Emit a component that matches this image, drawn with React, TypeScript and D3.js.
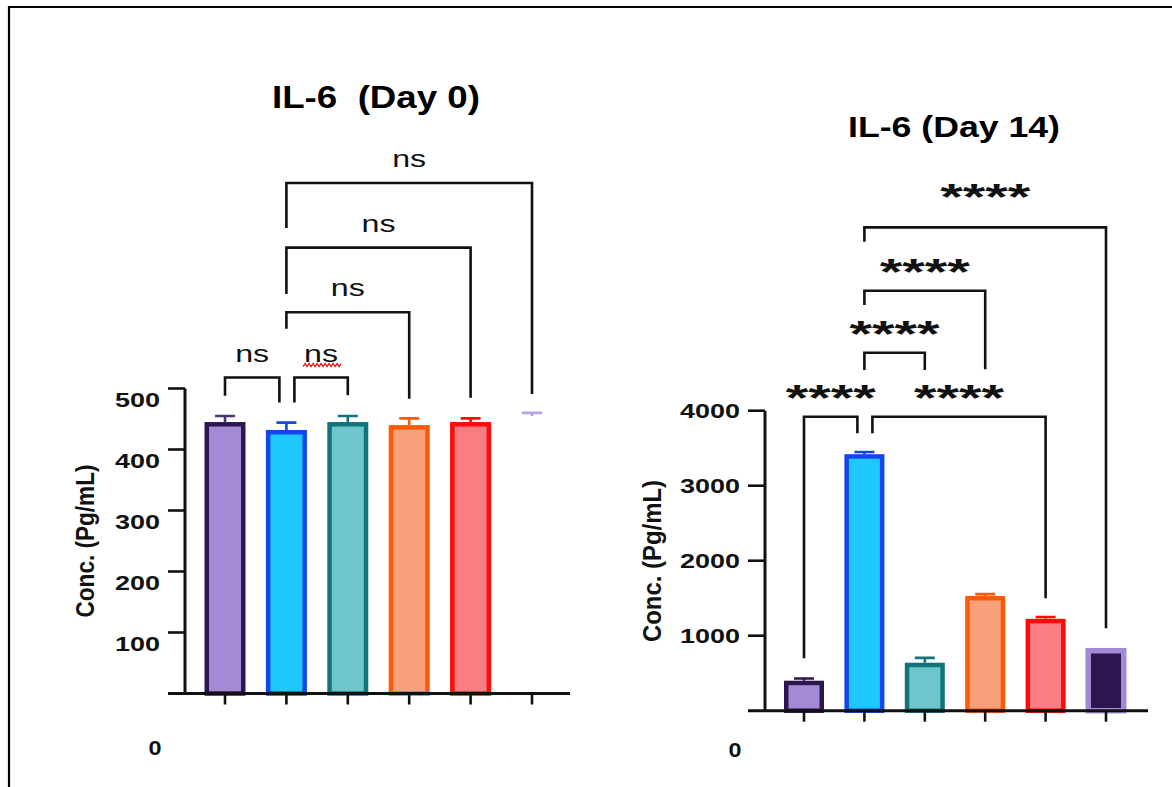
import React from "react";
import * as d3 from "d3";

// groups have no visible labels on the x axis
const groups = ["g1", "g2", "g3", "g4", "g5", "g6"];

// IL-6 day 0 (pg/mL)
const day0Mean = [445, 432, 445, 440, 445, 455];
const day0Err = [10, 12, 10, 11, 6, 5];
const day0Ticks = [100, 200, 300, 400, 500];

// IL-6 day 14 (pg/mL)
const day14Mean = [400, 3420, 640, 1530, 1225, 830];
const day14Err = [30, 30, 65, 25, 25, 0];
const day14Ticks = [1000, 2000, 3000, 4000];

// significance brackets: pair, label, bar level, left leg end, right leg end (data units)
const day0Pairs = [[0, 1], [1, 2], [1, 3], [1, 4], [1, 5]];
const day0Labels = ["ns", "ns", "ns", "ns", "ns"];
const day0Level = [518, 518, 625, 731, 837];
const day0LeftEnd = [488, 477, 598, 655, 763];
const day0RightEnd = [477, 489, 483, 485, 491];

const day14Pairs = [[0, 1], [1, 4], [1, 2], [1, 3], [1, 5]];
const day14Labels = ["****", "****", "****", "****", "****"];
const day14Level = [3920, 3920, 4773, 5600, 6445];
const day14LeftEnd = [699, 3699, 4543, 5409, 6253];
const day14RightEnd = [3699, 1499, 4543, 4552, 1099];

const FONT = "'Liberation Sans', Arial, sans-serif";

const fills0 = ["#a48ad4", "#1ec8fd", "#6fc5cc", "#f8a07a", "#f97d82", "none"];
const strokes0 = ["#2d1650", "#1246ea", "#11737b", "#ff5a0a", "#ff0a0a", "none"];
const errCol0 = ["#4b3474", "#1246ea", "#11737b", "#ff5a0a", "#ff0a0a", "#b9a2e6"];
const fills14 = ["#a48ad4", "#1ec8fd", "#6fc5cc", "#f8a07a", "#f97d82", "#2d1650"];
const strokes14 = ["#2d1650", "#1246ea", "#11737b", "#ff5a0a", "#ff0a0a", "#a48ad4"];

const Panel = (props: any) => {
  const { c } = props;
  const x = d3.scalePoint().domain(groups).range(c.xRange);
  const y = d3.scaleLinear().domain(c.yDomain).range(c.yRange);
  const x0 = c.axisLeft;
  const y0 = y(0);
  const sw = 4.5;

  const shared = (i: number, idx: number) =>
    c.pairs.some((p: number[], j: number) => j !== i && c.level[j] === c.level[i] && p.includes(idx));

  return (
    <g>
      <text
        x={c.title.x}
        y={c.title.y}
        fontFamily={FONT}
        fontWeight="bold"
        fontSize={c.title.size}
        textLength={c.title.len}
        lengthAdjust="spacingAndGlyphs"
        style={{ whiteSpace: "pre" }}
      >
        {c.title.text}
      </text>

      {/* bars */}
      {groups.map((g, i) => {
        const cx = x(g) as number;
        const top = y(c.mean[i]);
        return (
          <g key={g}>
            <rect
              x={cx - c.barW / 2 + sw / 2}
              y={top + sw / 2}
              width={c.barW - sw}
              height={y0 - top - sw / 2}
              fill={c.fills[i]}
              stroke={c.strokes[i]}
              strokeWidth={c.strokeW ? c.strokeW[i] : sw}
            />
            {c.err[i] > 0 && (
              <path
                d={`M${cx},${top}V${y(c.mean[i] + c.err[i])}M${cx - 10},${y(c.mean[i] + c.err[i])}H${cx + 10}`}
                stroke={c.errCol[i]}
                strokeWidth={2.6}
                fill="none"
              />
            )}
          </g>
        );
      })}

      {/* axes */}
      <path d={`M${x0},${y(c.yDomain[1])}V${y0}`} stroke="#111" strokeWidth={3} fill="none" />
      <path d={`M${x0 - 17},${y0}H${c.axisRight}`} stroke="#111" strokeWidth={3} fill="none" />
      {c.ticks.map((t: number) => (
        <g key={t}>
          <line x1={x0 - 17} x2={x0} y1={y(t)} y2={y(t)} stroke="#111" strokeWidth={2.6} />
          <text
            x={x0 - 25}
            y={y(t) + c.labelShift}
            dy="0.36em"
            textAnchor="end"
            fontFamily={FONT}
            fontWeight="bold"
            fontSize={20}
            textLength={String(t).length * 15}
            lengthAdjust="spacingAndGlyphs"
            fill="#111"
          >
            {t}
          </text>
        </g>
      ))}
      {groups.map((g) => (
        <line key={g} x1={x(g)} x2={x(g)} y1={y0} y2={y0 + 11} stroke="#111" strokeWidth={2.6} />
      ))}
      <text
        x={c.zero.x}
        y={c.zero.y}
        fontFamily={FONT}
        fontWeight="bold"
        fontSize={20}
        textAnchor="middle"
        textLength={13}
        lengthAdjust="spacingAndGlyphs"
        fill="#111"
      >
        0
      </text>
      <text
        transform={`translate(${c.ylab.x},${c.ylab.y}) scale(1.3,1) rotate(-90)`}
        dy="0.35em"
        textAnchor="middle"
        fontFamily={FONT}
        fontWeight="bold"
        fontSize={20}
        textLength={c.ylab.len}
        lengthAdjust="spacingAndGlyphs"
        fill="#111"
      >
        Conc. (Pg/mL)
      </text>

      {/* significance brackets */}
      {c.pairs.map((p: number[], i: number) => {
        const xa = (x(groups[p[0]]) as number) + (shared(i, p[0]) ? 8 : 0);
        const xb = (x(groups[p[1]]) as number) - (shared(i, p[1]) ? 7 : 0);
        const ly = y(c.level[i]);
        const mid = (xa + xb) / 2;
        const isStar = c.labels[i].startsWith("*");
        const lift = isStar ? (c.level[i] === d3.max(c.level) ? 35 : 24) : 0;
        return (
          <g key={i}>
            <path
              d={`M${xa},${y(c.leftEnd[i])}V${ly}H${xb}V${y(c.rightEnd[i])}`}
              stroke="#111"
              strokeWidth={2.6}
              fill="none"
            />
            {isStar ? (
              <text
                x={mid}
                y={ly - lift + 18}
                textAnchor="middle"
                fontFamily={FONT}
                fontWeight="bold"
                fontSize={36}
                textLength={90}
                lengthAdjust="spacingAndGlyphs"
                fill="#111"
              >
                {c.labels[i]}
              </text>
            ) : (
              <text
                x={mid}
                y={ly - 16}
                textAnchor="middle"
                fontFamily={FONT}
                fontSize={23}
                textLength={34}
                lengthAdjust="spacingAndGlyphs"
                fill="#111"
              >
                {c.labels[i]}
              </text>
            )}
            {c.squiggle === i && (
              <path
                d={
                  d3.line()(
                    d3.range(0, 20).map((k) => [mid - 18 + k * 2, ly - 16 + (k % 2 ? 2 : 5)] as [number, number])
                  ) as string
                }
                stroke="#e02020"
                strokeWidth={1.3}
                fill="none"
              />
            )}
          </g>
        );
      })}
    </g>
  );
};

const day0Config = {
  xRange: [225, 532],
  yDomain: [0, 500],
  yRange: [693.5, 388.5],
  axisLeft: 185,
  axisRight: 570,
  barW: 41,
  labelShift: 11,
  mean: day0Mean,
  err: day0Err,
  ticks: day0Ticks,
  fills: fills0,
  strokes: strokes0,
  errCol: errCol0,
  pairs: day0Pairs,
  labels: day0Labels,
  level: day0Level,
  leftEnd: day0LeftEnd,
  rightEnd: day0RightEnd,
  squiggle: 1,
  title: { text: "IL-6  (Day 0)", x: 272, y: 108, size: 31, len: 208 },
  zero: { x: 155, y: 755 },
  ylab: { x: 85, y: 541, len: 153 },
};

const day14Config = {
  xRange: [804, 1106],
  yDomain: [0, 4000],
  yRange: [710.7, 410.7],
  axisLeft: 765,
  axisRight: 1148,
  barW: 40,
  labelShift: 0,
  mean: day14Mean,
  err: day14Err,
  ticks: day14Ticks,
  fills: fills14,
  strokes: strokes14,
  strokeW: [4.5, 4.5, 4.5, 4.5, 4.5, 5.5],
  errCol: strokes14,
  pairs: day14Pairs,
  labels: day14Labels,
  level: day14Level,
  leftEnd: day14LeftEnd,
  rightEnd: day14RightEnd,
  squiggle: -1,
  title: { text: "IL-6 (Day 14)", x: 848, y: 137, size: 29, len: 212 },
  zero: { x: 735, y: 757 },
  ylab: { x: 652, y: 561, len: 162 },
};

export default function App() {
  return (
    <svg
      width={1172}
      height={787}
      style={{ position: "absolute", left: 0, top: 0, background: "#fff" }}
    >
      <rect width={1172} height={787} fill="#fff" />
      <path d="M9,787V7H1172" stroke="#000" strokeWidth={2.2} fill="none" />
      <Panel c={day0Config} />
      <Panel c={day14Config} />
    </svg>
  );
}
